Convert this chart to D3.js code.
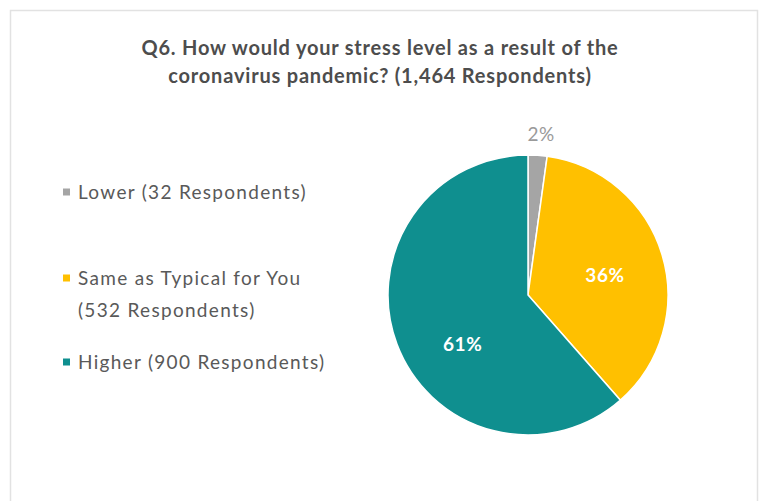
<!DOCTYPE html>
<html>
<head>
<meta charset="utf-8">
<script src="https://cdn.jsdelivr.net/npm/d3@7"></script>
<style>
  html, body { margin: 0; padding: 0; background: #ffffff; }
  svg { display: block; }
  text { font-family: Lato, "Open Sans", "Liberation Sans", sans-serif; }
</style>
</head>
<body>
<svg id="chart" width="761" height="501"></svg>
<script>
// Survey answers, in the order the pie draws them (clockwise from 12 o'clock)
const categories = ["Lower", "Same as Typical for You", "Higher"];
const respondents = [32, 532, 900];
const percentLabels = ["2%", "36%", "61%"];
const legendLabels = [
  ["Lower (32 Respondents)"],
  ["Same as Typical for You", "(532 Respondents)"],
  ["Higher (900 Respondents)"]
];
const titleLines = [
  "Q6. How would your stress level as a result of the",
  "coronavirus pandemic? (1,464 Respondents)"
];

const W = 761, H = 501;
const svg = d3.select("#chart");

const color = d3.scaleOrdinal()
  .domain(categories)
  .range(["#a5a5a5", "#ffc000", "#0f8f8f"]);

// outer frame
svg.append("rect")
  .attr("x", 10.5).attr("y", 10.5)
  .attr("width", 747).attr("height", 500)
  .attr("fill", "#ffffff")
  .attr("stroke", "#e2e2e2")
  .attr("stroke-width", 1.5);

// title
svg.append("g").selectAll("text")
  .data(titleLines)
  .join("text")
  .attr("x", 380)
  .attr("y", (d, i) => 55 + i * 28)
  .attr("text-anchor", "middle")
  .attr("font-size", 20)
  .attr("letter-spacing", 0.8)
  .attr("font-weight", "bold")
  .attr("fill", "#4d4d4d")
  .text(d => d);

// pie
const cx = 528, cy = 295, R = 140;
const data = categories.map((c, i) => ({ category: c, value: respondents[i], label: percentLabels[i] }));
const pie = d3.pie().value(d => d.value).sort(null).startAngle(0).endAngle(2 * Math.PI);
const arcs = pie(data);
const arc = d3.arc().innerRadius(0).outerRadius(R);

const pieG = svg.append("g").attr("transform", `translate(${cx},${cy})`);
pieG.selectAll("path")
  .data(arcs)
  .join("path")
  .attr("d", arc)
  .attr("fill", d => color(d.data.category))
  .attr("stroke", "#ffffff")
  .attr("stroke-width", 1.5);

// data label placement: radius (fraction of R) and angular nudge (degrees)
const placement = {
  "Lower": { r: 1.16, shift: 0.7, fill: "#9a9a9a", weight: "normal" },
  "Same as Typical for You": { r: 0.57, shift: 1.5, fill: "#ffffff", weight: "bold" },
  "Higher": { r: 0.58, shift: -15.7, fill: "#ffffff", weight: "bold" }
};
pieG.selectAll("text")
  .data(arcs)
  .join("text")
  .each(function (d) {
    const p = placement[d.data.category];
    const a = (d.startAngle + d.endAngle) / 2 + p.shift * Math.PI / 180;
    d3.select(this)
      .attr("x", Math.sin(a) * R * p.r)
      .attr("y", -Math.cos(a) * R * p.r)
      .attr("fill", p.fill)
      .attr("font-weight", p.weight);
  })
  .attr("text-anchor", "middle")
  .attr("dominant-baseline", "central")
  .attr("font-size", 19)
  .attr("letter-spacing", 0.6)
  .text(d => d.data.label);

// legend
const legendY = [192, 278, 362];
const legend = svg.append("g").selectAll("g")
  .data(categories)
  .join("g")
  .attr("transform", (d, i) => `translate(0,${legendY[i]})`);

legend.append("rect")
  .attr("x", 63).attr("y", -3.5)
  .attr("width", 7).attr("height", 7)
  .attr("fill", d => color(d));

legend.append("text")
  .attr("font-size", 19)
  .attr("letter-spacing", 1.3)
  .attr("fill", "#595959")
  .selectAll("tspan")
  .data((d, i) => legendLabels[i])
  .join("tspan")
  .attr("x", 78)
  .attr("y", (d, j) => j * 32)
  .attr("dy", "0.35em")
  .text(d => d);
</script>
</body>
</html>
